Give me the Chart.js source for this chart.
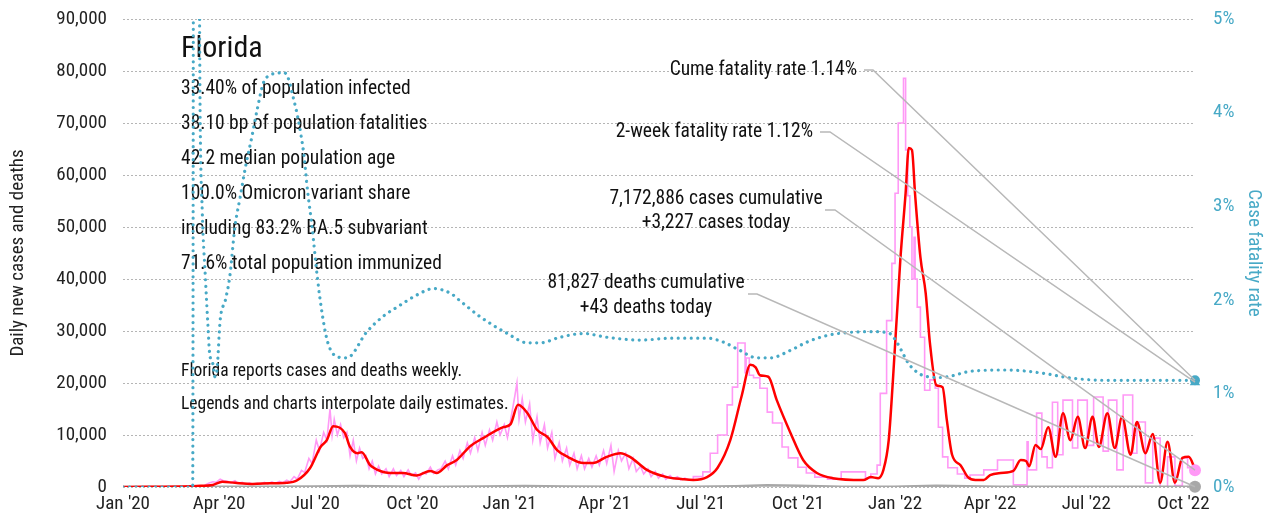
<!DOCTYPE html>
<html>
<head>
<meta charset="utf-8">
<script src="https://cdn.jsdelivr.net/npm/chart.js@4.4.0/dist/chart.umd.min.js"></script>
<style>
  html, body { margin: 0; padding: 0; background: #fff; }
  #wrap { width: 1283px; height: 529px; }
</style>
</head>
<body>
<div id="wrap"><canvas id="chart"></canvas></div>
<script>
/* globals Chart */

// days counted from Jan 1 2020
var tickDays = [0, 91, 182, 274, 366, 456, 547, 639, 731, 821, 912, 1004]
var tickLabels = ["Jan '20", "Apr '20", "Jul '20", "Oct '20", "Jan '21", "Apr '21", "Jul '21", "Oct '21", "Jan '22", "Apr '22", "Jul '22", "Oct '22"]

// 7-day average cases [day, cases]
var avgCases = [[0,0],[70,200],[85,400],[94,1000],[106,800],[123,600],[139,700],[155,800],[165,1300],[177,3600],[187,7700],[193,9000],[199,11700],[210,10400],[215,7700],[222,6500],[226,6700],[234,4200],[241,3300],[253,2700],[265,2700],[278,2200],[291,3100],[297,2700],[307,4200],[316,5200],[329,7900],[341,9400],[360,11500],[367,12100],[374,15800],[383,14200],[392,11000],[402,9600],[411,7100],[421,5800],[436,4600],[445,4600],[458,5800],[471,6500],[480,5800],[496,3300],[515,1900],[530,1500],[540,1350],[553,1900],[563,3700],[575,9000],[586,17700],[594,23500],[599,23000],[603,21500],[611,21200],[619,16700],[632,10400],[644,5200],[657,2700],[672,1700],[701,1350],[708,1900],[715,1700],[720,3300],[725,9000],[729,20600],[736,43700],[741,56500],[744,65200],[747,64800],[750,56200],[755,44200],[760,37300],[764,27700],[770,19600],[776,19200],[780,12900],[785,6200],[793,4200],[800,1900],[807,1350],[815,1350],[821,2300],[831,2700],[843,3100],[850,5200],[855,5000],[858,4000],[864,8100],[869,7300],[876,11500],[883,5800],[890,14200],[897,9000],[904,13500],[911,7500],[918,13500],[924,7700],[932,14200],[939,7500],[946,13500],[954,6200],[960,12500],[968,6500],[975,10200],[982,800],[989,8700],[996,800],[1003,5600],[1009,5800],[1015,3500]]

// daily cases, jagged part (daily reports)
var dailyCases = [[0,0],[60,0],[70,100],[77,300],[81,700],[85,1000],[88,900],[92,1500],[95,1200],[99,1100],[102,800],[106,1200],[109,700],[113,900],[116,500],[120,800],[123,500],[127,700],[130,600],[134,900],[137,600],[141,1000],[144,700],[148,1100],[151,800],[155,1300],[158,1000],[162,2000],[165,1500],[169,3200],[172,2800],[176,5500],[179,4500],[183,9000],[186,7000],[190,10500],[193,9000],[196,15000],[198,10000],[200,13000],[203,10000],[206,12000],[209,9500],[212,10500],[215,6000],[218,9000],[221,5000],[224,7500],[227,5500],[230,6000],[233,3500],[236,5000],[239,2500],[242,4000],[245,2500],[249,3500],[252,2000],[256,3500],[259,2200],[263,3200],[266,2000],[270,3300],[273,2200],[277,2700],[280,1500],[284,2800],[287,2500],[291,3800],[294,2600],[298,3300],[301,3500],[305,5000],[308,3500],[312,6000],[315,4200],[319,7000],[322,5500],[326,8500],[329,6500],[333,9500],[336,7000],[340,10500],[343,8000],[347,11000],[350,9000],[354,12500],[357,10000],[361,12000],[364,9500],[368,14000],[371,17500],[373,20000],[375,13000],[378,17000],[381,12500],[385,16000],[388,9000],[392,13500],[395,8500],[399,12000],[402,7500],[406,10500],[409,5500],[413,8500],[416,5000],[420,7500],[423,4200],[427,6500],[430,3500],[434,6000],[437,3500],[441,5500],[444,3800],[448,6000],[451,4200],[455,7000],[458,4500],[462,8000],[465,3000],[469,7000],[472,5000],[476,6500],[479,3500],[483,5500],[486,3000],[490,4000],[493,2500],[497,3500],[500,2000],[504,3000],[507,1700],[511,2500],[514,1500],[518,2200],[521,1600],[525,2000],[528,1400],[532,1700],[536,1300],[540,1500]]

// daily cases, weekly reporting part (steps)
var weeklyCases = [[540,1500],[549,2000],[556,2900],[563,6500],[572,10000],[577,15800],[582,19200],[589,27700],[590,22000],[593,24800],[597,21500],[603,21000],[610,19000],[615,14400],[624,12300],[630,7700],[639,5600],[647,3800],[655,2700],[667,1900],[680,1500],[703,2900],[708,1700],[714,2500],[717,4200],[723,18000],[728,32000],[731,43000],[734,56500],[739,70000],[741,78600],[743,64800],[745,56000],[747,50000],[749,40000],[750,48000],[752,40000],[755,34600],[759,28800],[764,18600],[769,20600],[772,19000],[776,11500],[781,5800],[790,3700],[797,2500],[802,1700],[815,2300],[828,3300],[843,5200],[856,400],[857,8700],[865,3300],[870,14200],[875,5800],[880,3700],[885,16300],[890,6200],[899,16700],[904,7500],[913,16700],[919,8000],[928,17300],[933,6900],[941,16700],[947,3300],[956,17700],[960,6500],[968,12500],[975,800],[982,9400],[989,0],[996,5800],[1003,300],[1008,5600],[1013,3700],[1015,3227]]

// daily deaths
var dailyDeaths = [[0,0],[70,0],[95,50],[130,40],[180,100],[220,170],[260,100],[300,70],[340,120],[380,180],[420,120],[480,70],[540,40],[580,150],[610,330],[640,250],[680,60],[730,60],[770,230],[800,150],[830,50],[900,40],[1015,43]]

// case fatality rate, percent
var fatalityRate = [[0,0],[66,0],[67,8],[72,6],[73,4.03],[75,2.96],[78,2.24],[80.5,1.71],[82,1.43],[85,1.32],[87,1.18],[89,1.25],[92,1.78],[97,2.0],[101,2.24],[106,2.78],[111,3.10],[116,3.42],[122,3.74],[127,4.03],[133,4.32],[139,4.40],[146,4.42],[152,4.43],[156,4.38],[161,4.17],[166,3.92],[171,3.57],[175,3.14],[179,2.78],[184,2.24],[189,1.82],[194,1.54],[203,1.39],[212,1.38],[231,1.66],[246,1.82],[262,1.94],[278,2.05],[294,2.12],[310,2.07],[319,1.99],[338,1.82],[364,1.64],[383,1.54],[395,1.54],[414,1.60],[436,1.64],[458,1.60],[490,1.57],[521,1.59],[553,1.59],[568,1.55],[584,1.46],[600,1.38],[613,1.38],[632,1.46],[648,1.55],[667,1.62],[686,1.65],[710,1.66],[726,1.64],[733,1.54],[745,1.30],[761,1.18],[774,1.17],[805,1.24],[837,1.25],[868,1.22],[900,1.16],[932,1.14],[963,1.14],[995,1.14],[1015,1.14]]

var lastDay = 1015
var cumeRate = 1.14
var twoWeekRate = 1.12
var casesToday = 3227
var deathsToday = 43

var stateName = 'Florida'
var infoLines = ['33.40% of population infected', '38.10 bp of population fatalities', '42.2 median population age', '100.0% Omicron variant share', 'including 83.2% BA.5 subvariant', '71.6% total population immunized']
var noteLines = ['Florida reports cases and deaths weekly.', 'Legends and charts interpolate daily estimates.']

var FONT = "'Liberation Sans Narrow', 'Roboto Condensed', 'DejaVu Sans Condensed', Roboto, sans-serif"
var TEAL = '#47a9c6'
var PINK = '#ff99f6'

function pts(arr){
  return arr.map(function(p){ return {x: p[0], y: p[1]} })
}

Chart.defaults.font.family = FONT
Chart.defaults.font.size = 19
Chart.defaults.color = '#222'

// text block + leader lines
var overlay = {
  id: 'overlay',
  beforeDatasetsDraw: function(chart){
    var ctx = chart.ctx
    ctx.save()
    ctx.fillStyle = '#111'
    ctx.textAlign = 'left'
    ctx.textBaseline = 'middle'
    ctx.font = '30px ' + FONT
    ctx.fillText(stateName, 181, 49)
    ctx.font = '19.5px ' + FONT
    infoLines.forEach(function(t, i){ ctx.fillText(t, 181, 89 + i * 35) })
    ctx.font = '17.5px ' + FONT
    noteLines.forEach(function(t, i){ ctx.fillText(t, 181, 372 + i * 33) })
    ctx.restore()
  },
  afterDatasetsDraw: function(chart){
    var ctx = chart.ctx
    var xs = chart.scales.x, ys = chart.scales.y, yr = chart.scales.y1
    var ex = xs.getPixelForValue(lastDay)
    var leaders = [
      [864, 873, 70, yr.getPixelForValue(cumeRate)],
      [820, 830, 132, yr.getPixelForValue(twoWeekRate)],
      [825, 835, 210, ys.getPixelForValue(casesToday)],
      [748, 757, 294, ys.getPixelForValue(deathsToday)]
    ]
    ctx.save()
    ctx.strokeStyle = '#b8b8b8'
    ctx.lineWidth = 1.5
    leaders.forEach(function(l){
      ctx.beginPath()
      ctx.moveTo(l[0], l[2])
      ctx.lineTo(l[1], l[2])
      ctx.lineTo(ex, l[3])
      ctx.stroke()
    })
    ctx.fillStyle = '#111'
    ctx.textBaseline = 'middle'
    ctx.font = '19.5px ' + FONT
    ctx.textAlign = 'right'
    ctx.fillText('Cume fatality rate ' + cumeRate.toFixed(2) + '%', 857, 70)
    ctx.fillText('2-week fatality rate ' + twoWeekRate.toFixed(2) + '%', 813, 132)
    ctx.textAlign = 'center'
    ctx.fillText('7,172,886 cases cumulative', 716, 199)
    ctx.fillText('+3,227 cases today', 716, 223)
    ctx.fillText('81,827 deaths cumulative', 646, 283)
    ctx.fillText('+43 deaths today', 646, 308)
    ctx.restore()
  }
}

var data = {
  datasets: [
    { data: [{x: lastDay, y: cumeRate}], yAxisID: 'y1', showLine: false, clip: false, pointRadius: 5, pointBackgroundColor: TEAL, pointBorderWidth: 0 },
    { data: [{x: lastDay, y: twoWeekRate}], yAxisID: 'y1', showLine: false, clip: false, pointStyle: 'triangle', pointRadius: 6, pointBackgroundColor: TEAL, pointBorderWidth: 0 },
    { data: [{x: lastDay, y: casesToday}], yAxisID: 'y', showLine: false, clip: false, pointRadius: 6, pointBackgroundColor: PINK, pointBorderWidth: 0 },
    { data: [{x: lastDay, y: deathsToday}], yAxisID: 'y', showLine: false, clip: false, pointRadius: 6, pointBackgroundColor: '#a8a8a8', pointBorderWidth: 0 },
    { data: pts(fatalityRate), yAxisID: 'y1', borderColor: TEAL, borderWidth: 3.2, borderDash: [0.01, 6.5], borderCapStyle: 'round', cubicInterpolationMode: 'monotone', pointRadius: 0 },
    { data: pts(avgCases), yAxisID: 'y', borderColor: '#ff0000', borderWidth: 2.5, cubicInterpolationMode: 'monotone', pointRadius: 0 },
    { data: pts(dailyDeaths), yAxisID: 'y', borderColor: '#a8a8a8', borderWidth: 2.5, pointRadius: 0 },
    { data: pts(weeklyCases), yAxisID: 'y', borderColor: PINK, borderWidth: 1.6, stepped: 'after', pointRadius: 0 },
    { data: pts(dailyCases), yAxisID: 'y', borderColor: PINK, borderWidth: 1.6, pointRadius: 0 }
  ]
}

function noVerticalPadding(scale){
  scale.paddingTop = 0
  scale.paddingBottom = 0
}

var chart = new Chart(document.getElementById('chart'), {
  type: 'line',
  data: data,
  plugins: [overlay],
  options: {
    responsive: true,
    maintainAspectRatio: false,
    animation: false,
    layout: { padding: { top: 19, right: 0, left: 0, bottom: 0 } },
    plugins: { legend: { display: false }, tooltip: { enabled: false } },
    scales: {
      x: {
        type: 'linear',
        min: 0,
        max: lastDay,
        afterBuildTicks: function(scale){ scale.ticks = tickDays.map(function(v){ return {value: v} }) },
        afterFit: function(scale){ scale.height = 42 },
        ticks: {
          padding: 6,
          maxRotation: 0,
          autoSkip: false,
          color: '#222',
          callback: function(v, i){ return tickLabels[i] }
        },
        grid: { display: false, drawTicks: false },
        border: { display: false }
      },
      y: {
        position: 'left',
        min: 0,
        max: 90000,
        afterFit: function(scale){ scale.width = 123; noVerticalPadding(scale) },
        ticks: {
          stepSize: 10000,
          padding: 16,
          color: '#222',
          callback: function(v){ return v.toLocaleString('en-US') }
        },
        grid: { color: '#b5b5b5', lineWidth: 1, drawTicks: false },
        border: { display: false, dash: [2, 2] },
        title: { display: true, text: 'Daily new cases and deaths', color: '#222', font: { size: 19 }, padding: { top: 7, bottom: 0 } }
      },
      y1: {
        position: 'right',
        min: 0,
        max: 5,
        afterFit: function(scale){ scale.width = 88; noVerticalPadding(scale) },
        ticks: {
          stepSize: 1,
          padding: 18,
          color: TEAL,
          callback: function(v){ return v + '%' }
        },
        grid: { display: false, drawTicks: false },
        border: { display: false },
        title: { display: true, text: 'Case fatality rate', color: TEAL, font: { size: 19 }, padding: { top: 18, bottom: 0 } }
      }
    }
  }
})
</script>
</body>
</html>
